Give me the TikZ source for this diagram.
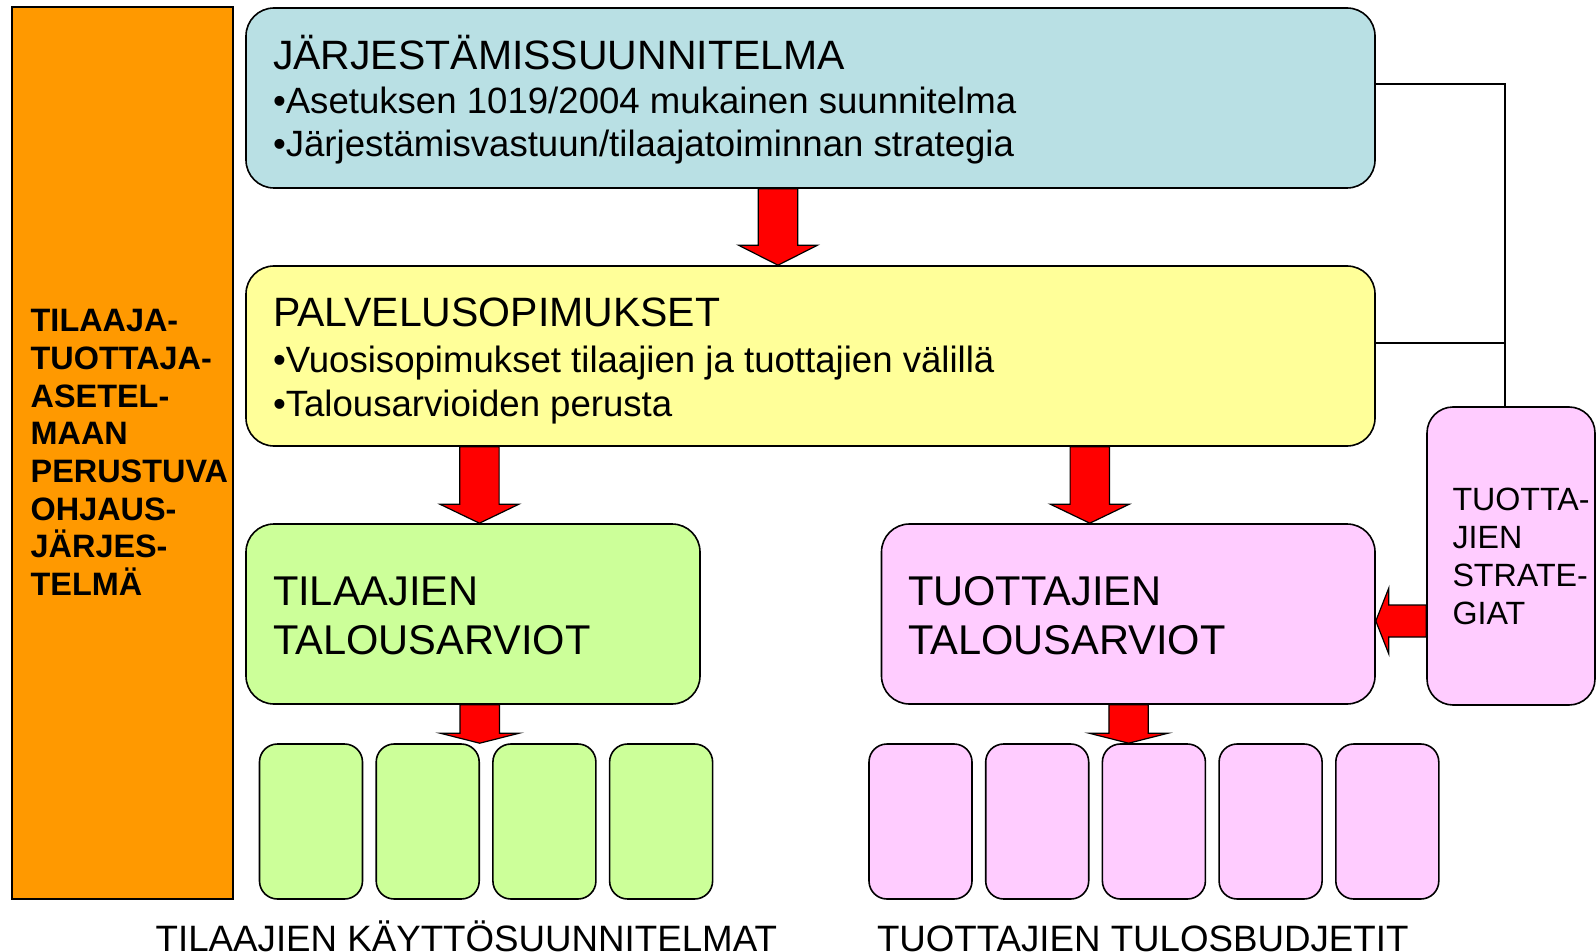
\documentclass[tikz,border=0pt]{standalone}
\usepackage{fontspec}
\setmainfont{Liberation Sans}
\usetikzlibrary{calc}
\definecolor{bluefill}{RGB}{185,224,228}
\definecolor{yellowfill}{RGB}{255,255,153}
\definecolor{greenfill}{RGB}{204,255,153}
\definecolor{pinkfill}{RGB}{255,204,255}
\definecolor{orangefill}{RGB}{255,153,0}
\definecolor{arrowred}{RGB}{255,0,0}
\tikzset{
  bigbox/.style={draw=black, line width=0.8pt, rounded corners=14pt, minimum height=90pt, inner sep=0pt},
  smallbox/.style={draw=black, line width=0.8pt, rounded corners=9pt, minimum width=51.5pt, minimum height=77.5pt, inner sep=0pt},
  txt/.style={anchor=base west, inner sep=0pt, outer sep=0pt},
  titlefont/.style={font=\fontsize{20.5pt}{24pt}\selectfont},
  boxfont/.style={font=\fontsize{20.8pt}{24pt}\selectfont},
  bulletfont/.style={font=\fontsize{18.3pt}{21pt}\selectfont},
  sidefont/.style={font=\fontsize{16.2pt}{19pt}\selectfont\bfseries},
  stratfont/.style={font=\fontsize{16.1pt}{19pt}\selectfont},
  capfont/.style={font=\fontsize{18.35pt}{21pt}\selectfont},
  blockarrow/.style={fill=arrowred, draw=black, line width=0.6pt, line join=miter},
  link/.style={draw=black, line width=0.6pt}
}
% block arrow pointing down: #1 x-reference coordinate, #2 start node anchor, #3 end node anchor, #4 head length (px)
\newcommand{\dnarrow}[4]{%
  \filldraw[blockarrow] ($(#1 |- #2)+(-19.7,0)$) -- ($(#1 |- #3)+(-19.7,-#4)$) -- ($(#1 |- #3)+(-39.5,-#4)$) -- (#1 |- #3) -- ($(#1 |- #3)+(39.5,-#4)$) -- ($(#1 |- #3)+(19.7,-#4)$) -- ($(#1 |- #2)+(19.7,0)$) -- cycle;}
\begin{document}
\begin{tikzpicture}[x=0.5pt, y=-0.5pt]
\useasboundingbox (0,0) rectangle (1596,952);

% left orange panel
\node[draw=black, line width=0.8pt, fill=orangefill, minimum width=110.5pt, minimum height=446pt, inner sep=0pt] (side) at (122.5,453) {};

% main boxes
\node[bigbox, fill=bluefill, minimum width=564.5pt] (blue) at (810.5,98) {};
\node[bigbox, fill=yellowfill, minimum width=564.5pt] (yellow) at (810.5,356) {};
\node[bigbox, fill=greenfill, minimum width=227pt] (green) at (473,614) {};
\node[bigbox, fill=pinkfill, minimum width=246.75pt] (pink) at (1128.25,614) {};
\node[draw=black, line width=0.8pt, rounded corners=13pt, fill=pinkfill, minimum width=84pt, minimum height=149pt, inner sep=0pt] (strat) at (1511,556) {};

% small boxes
\foreach \i/\x in {1/311, 2/427.7, 3/544.4, 4/661.1}
  \node[smallbox, fill=greenfill] (g\i) at (\x,821.5) {};
\foreach \i/\x in {1/920.5, 2/1037.2, 3/1153.9, 4/1270.6, 5/1387.3}
  \node[smallbox, fill=pinkfill] (p\i) at (\x,821.5) {};

% connector lines on the right
\coordinate (ctop) at (1505,84);
\coordinate (cjoin) at (1505,343);
\draw[link] (blue.east |- ctop) -- (ctop) -- (ctop |- strat.north);
\draw[link] (yellow.east |- cjoin) -- (cjoin);

% block arrows
\coordinate (a1) at (778,0);
\coordinate (a2) at (479.4,0);
\coordinate (a3) at (1089.8,0);
\coordinate (a4) at (479.7,0);
\coordinate (a5) at (1128.6,0);
\dnarrow{a1}{blue.south}{yellow.north}{20}
\dnarrow{a2}{yellow.south}{green.north}{19}
\dnarrow{a3}{yellow.south}{pink.north}{19}
\dnarrow{a4}{green.south}{g2.north}{10}
\dnarrow{a5}{pink.south}{p3.north}{10}
\coordinate (a6) at (0,621);
\filldraw[blockarrow] ($(strat.west |- a6)+(0,-16)$) -- ($(pink.east |- a6)+(13,-16)$) -- ($(pink.east |- a6)+(13,-33)$) -- (pink.east |- a6) -- ($(pink.east |- a6)+(13,33)$) -- ($(pink.east |- a6)+(13,16)$) -- ($(strat.west |- a6)+(0,16)$) -- cycle;

% texts: blue box
\node[txt, titlefont] (bt0) at (273,70) {JÄRJESTÄMISSUUNNITELMA};
\node[txt, bulletfont] (bt1) at (273,113.3) {•Asetuksen 1019/2004 mukainen suunnitelma};
\node[txt, bulletfont] (bt2) at (273,156.7) {•Järjestämisvastuun/tilaajatoiminnan strategia};
% yellow box
\node[txt, titlefont] (yt0) at (273,326.7) {PALVELUSOPIMUKSET};
\node[txt, bulletfont] (yt1) at (273,372.3) {•Vuosisopimukset tilaajien ja tuottajien välillä};
\node[txt, bulletfont] (yt2) at (273,416.7) {•Talousarvioiden perusta};
% green box
\node[txt, boxfont] (gt0) at (273,605) {TILAAJIEN};
\node[txt, boxfont] (gt1) at (273,654) {TALOUSARVIOT};
% pink box
\node[txt, boxfont] (pt0) at (908,605) {TUOTTAJIEN};
\node[txt, boxfont] (pt1) at (908,654) {TALOUSARVIOT};
% strategy box
\node[txt, stratfont] (st0) at (1452.5,510) {TUOTTA-};
\node[txt, stratfont] (st1) at (1452.5,548.3) {JIEN};
\node[txt, stratfont] (st2) at (1452.5,586.3) {STRATE-};
\node[txt, stratfont] (st3) at (1452.5,624.3) {GIAT};
% side panel text
\foreach \t [count=\k from 0] in {TILAAJA-, TUOTTAJA-, ASETEL-, MAAN, PERUSTUVA, OHJAUS-, JÄRJES-, TELMÄ}
  \node[txt, sidefont] (ot\k) at (30.7,{331.7+37.7*\k}) {\t};
% bottom captions
\node[txt, capfont] (cap1) at (155.7,951) {TILAAJIEN KÄYTTÖSUUNNITELMAT};
\node[txt, capfont] (cap2) at (877,951) {TUOTTAJIEN TULOSBUDJETIT};
\end{tikzpicture}
\end{document}
